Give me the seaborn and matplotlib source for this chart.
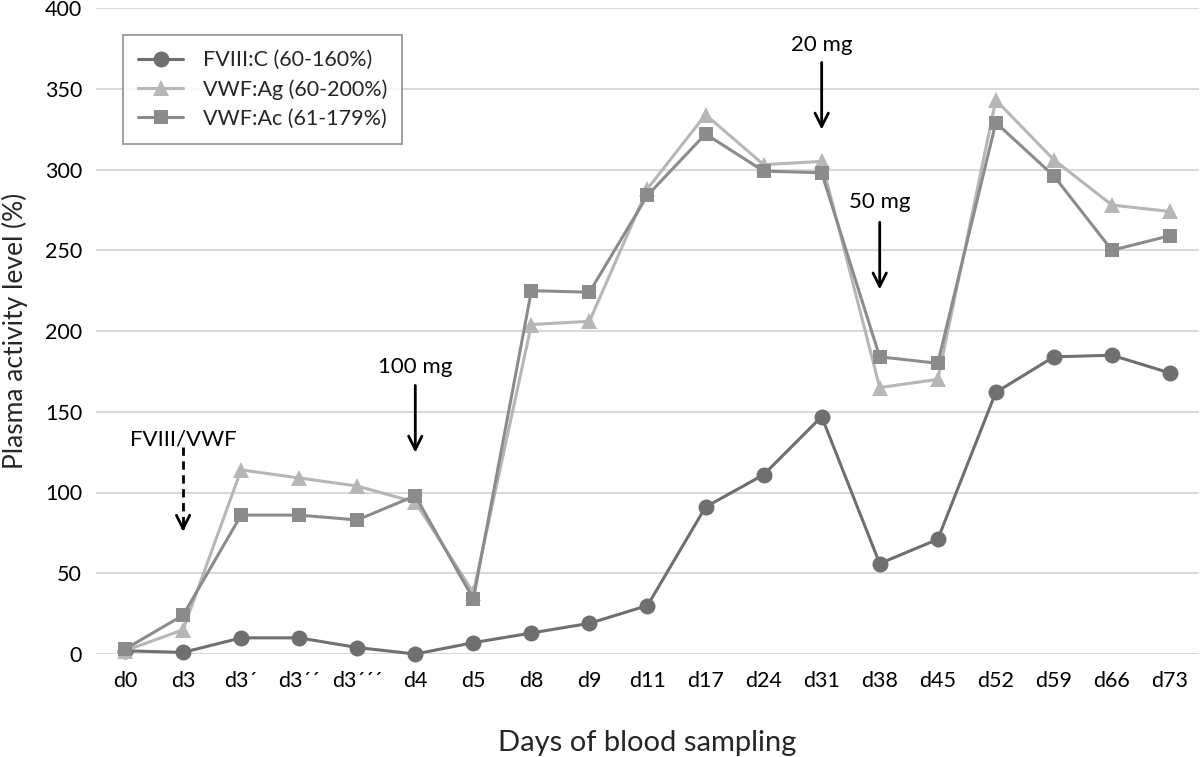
import matplotlib
matplotlib.use("Agg")
import matplotlib.pyplot as plt
import seaborn as sns
import numpy as np

days = ["d0", "d3", "d3\u00b4", "d3\u00b4\u00b4", "d3\u00b4\u00b4\u00b4", "d4", "d5", "d8", "d9", "d11",
        "d17", "d24", "d31", "d38", "d45", "d52", "d59", "d66", "d73"]
fviii_c = [2, 1, 10, 10, 4, 0, 7, 13, 19, 30, 91, 111, 147, 56, 71, 162, 184, 185, 174]
vwf_ag = [2, 15, 114, 109, 104, 94, 38, 204, 206, 288, 334, 303, 305, 165, 170, 343, 306, 278, 274]
vwf_ac = [3, 24, 86, 86, 83, 98, 34, 225, 224, 284, 322, 299, 298, 184, 180, 329, 296, 250, 259]
labels = ["FVIII:C (60-160%)", "VWF:Ag (60-200%)", "VWF:Ac (61-179%)"]
yticks = [0, 50, 100, 150, 200, 250, 300, 350, 400]

sns.set_theme(style="white")
plt.rcParams["font.family"] = ["Lato", "DejaVu Sans"]

fig = plt.figure(figsize=(12, 7.57), dpi=100)
ax = fig.add_axes([96/1200, 103/757, 1103/1200, 646/757])

x = np.arange(len(days))
series = [
    (fviii_c, labels[0], "#6f6f6f", "o", 11.5),
    (vwf_ag, labels[1], "#b6b6b6", "^", 12),
    (vwf_ac, labels[2], "#8b8b8b", "s", 10.5),
]
for vals, lab, col, mk, ms in series:
    sns.lineplot(x=x, y=vals, ax=ax, color=col, marker=mk, markersize=ms,
                 markeredgewidth=0, linewidth=2.2, label=lab, clip_on=False, zorder=3)

ax.set_xlim(-0.5, len(days) - 0.5)
ax.set_ylim(0, 400)
ax.set_yticks(yticks)
ax.set_xticks(x)
ax.set_xticklabels(days)
ax.tick_params(axis="both", length=0, labelsize=15.5, colors="black")
ax.tick_params(axis="x", pad=12)
ax.tick_params(axis="y", pad=10)
for s in ax.spines.values():
    s.set_visible(False)
ax.yaxis.grid(True, color="#d9d9d9", linewidth=1.5, zorder=0)
ax.xaxis.grid(False)
ax.set_axisbelow(True)

ax.set_ylabel("Plasma activity level (%)", fontsize=19, labelpad=12)
ax.set_xlabel("Days of blood sampling", fontsize=21, labelpad=28)

leg = ax.legend(loc="upper left", bbox_to_anchor=(27/1103, 1 - 27/646), frameon=True,
                fancybox=False, fontsize=15.5, handlelength=2.1, borderpad=0.7,
                labelspacing=0.42, handletextpad=0.9, borderaxespad=0)
leg.get_frame().set_edgecolor("#7f7f7f")
leg.get_frame().set_linewidth(1.3)

head = "->,head_length=0.8,head_width=0.4"

def arrow(xi, y_top, y_bot, text, ytext, dashed=False):
    if dashed:
        ax.plot([xi, xi], [y_top, y_bot + 6], color="black", lw=2, linestyle=(0, (3, 2)), zorder=5)
        ax.annotate("", xy=(xi, y_bot), xytext=(xi, y_bot + 7),
                    arrowprops=dict(arrowstyle=head, color="black", lw=2), zorder=5)
    else:
        ax.annotate("", xy=(xi, y_bot), xytext=(xi, y_top),
                    arrowprops=dict(arrowstyle=head, color="black", lw=2), zorder=5)
    ax.text(xi, ytext, text, ha="center", va="center", fontsize=16, color="black")

arrow(1, 128, 74, "FVIII/VWF", 133, dashed=True)
arrow(5, 168, 123, "100 mg", 178)
arrow(12, 368, 323, "20 mg", 377)
arrow(13, 269, 224, "50 mg", 280)

fig.savefig("out.png", dpi=100)
